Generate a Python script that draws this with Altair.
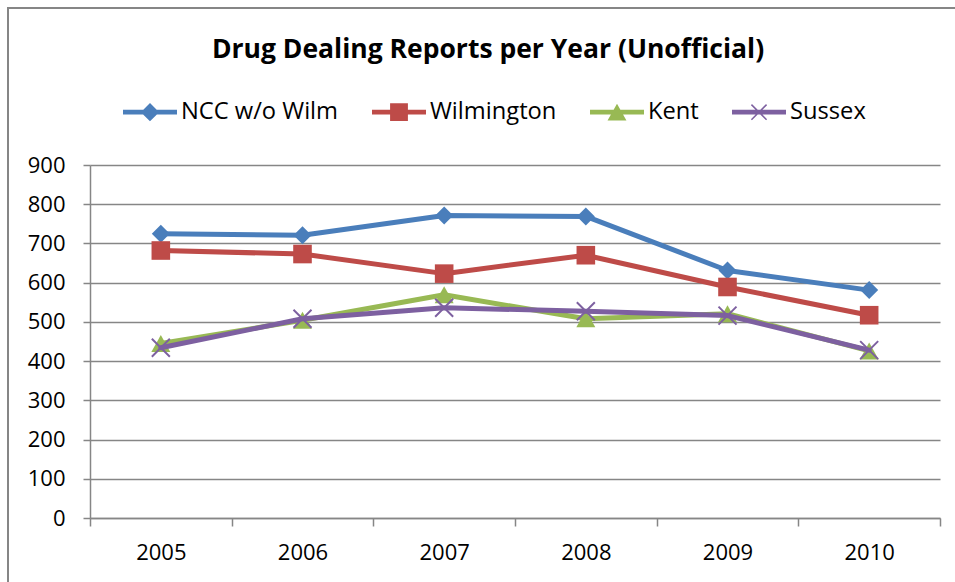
import altair as alt
import pandas as pd

# ---- data -------------------------------------------------------------
years = [2005, 2006, 2007, 2008, 2009, 2010]
series_names = ["NCC w/o Wilm", "Wilmington", "Kent", "Sussex"]
ncc_wo_wilm = [725, 721, 771, 769, 631, 581]
wilmington = [682, 673, 623, 670, 589, 517]
kent = [445, 504, 569, 508, 521, 426]
sussex = [434, 508, 536, 527, 516, 428]
y_ticks = list(range(0, 901, 100))
title_text = "Drug Dealing Reports per Year (Unofficial)"

# ---- styling ----------------------------------------------------------
line_colors = ["#4A7EBB", "#BE4B48", "#98B954", "#7D60A0"]
grey = "#868686"
font = "Open Sans"

# marker outlines in the unit square (filled paths)
marker_paths = [
    "M0,-0.9L0.9,0L0,0.9L-0.9,0Z",                      # diamond
    "M-0.93,-0.93L0.93,-0.93L0.93,0.93L-0.93,0.93Z",    # square
    "M0,-0.85L0.95,0.85L-0.95,0.85Z",                   # triangle
    "M-0.83,-0.97L0.97,0.83L0.83,0.97L-0.97,-0.83Z"
    "M0.97,-0.83L-0.83,0.97L-0.97,0.83L0.83,-0.97Z",    # x
]

# legend keys: a short line segment with the marker on it
seg = "M-1,-0.085L1,-0.085L1,0.085L-1,0.085Z"
legend_paths = [
    seg + "M0,-0.34L0.34,0L0,0.34L-0.34,0Z",
    seg + "M-0.33,-0.33L0.33,-0.33L0.33,0.33L-0.33,0.33Z",
    seg + "M0,-0.31L0.35,0.31L-0.35,0.31Z",
    seg + "M-0.26,-0.3L0.3,0.26L0.26,0.3L-0.3,-0.26Z"
          "M0.3,-0.26L-0.26,0.3L-0.3,0.26L0.26,-0.3Z",
]

values = dict(zip(series_names, [ncc_wo_wilm, wilmington, kent, sussex]))
df = pd.DataFrame(
    [{"year": y, "series": s, "reports": v}
     for s in series_names for y, v in zip(years, values[s])]
)

# category boundaries get ticks, category centres get labels
x_axis_values = sorted(years + [y - 0.5 for y in years] + [years[-1] + 0.5])

x_enc = alt.X(
    "year:Q",
    scale=alt.Scale(domain=[years[0] - 0.5, years[-1] + 0.5], nice=False, zero=False),
    axis=alt.Axis(
        values=x_axis_values,
        labelExpr="datum.value % 1 === 0 ? format(datum.value, 'd') : ''",
        tickOpacity={"condition": {"test": "datum.value % 1 === 0", "value": 0}, "value": 1},
        grid=False,
        domainColor=grey, domainWidth=1.5,
        tickColor=grey, tickWidth=1.5, tickSize=8,
        labelFont=font, labelFontSize=22, labelColor="black",
        labelPadding=16, labelFlush=False, labelOverlap=False,
        title=None,
    ),
)
y_enc = alt.Y(
    "reports:Q",
    scale=alt.Scale(domain=[0, 900], nice=False),
    axis=alt.Axis(
        values=y_ticks,
        grid=True, gridColor=grey, gridWidth=1.5,
        domainColor=grey, domainWidth=1.5,
        tickColor=grey, tickWidth=1.5, tickSize=7,
        labelFont=font, labelFontSize=22, labelColor="black",
        labelPadding=18, title=None,
    ),
)

# outer chart frame
frame = alt.Chart(pd.DataFrame({"f": [0]})).mark_rect(
    fill="white", fillOpacity=0, stroke=grey, strokeWidth=2
).encode(
    x=alt.value(-82), x2=alt.value(1000), y=alt.value(-157), y2=alt.value(1000)
)

layers = [frame]
for name, path, col in zip(series_names, marker_paths, line_colors):
    sub = df[df["series"] == name]
    base = alt.Chart(sub).encode(x=x_enc, y=y_enc)
    layers.append(base.mark_line(color=col, strokeWidth=5, strokeCap="round", strokeJoin="round"))
    layers.append(base.mark_point(shape=path, filled=True, size=400, opacity=1, color=col))

legend_props = dict(
    title=None, orient="none", direction="horizontal",
    legendX=33, legendY=-80,
    symbolSize=2916, symbolStrokeWidth=0, symbolOpacity=1,
    labelFont=font, labelFontSize=23.7, labelColor="black",
    labelOffset=4, columnPadding=33, padding=0,
)
legend_layer = alt.Chart(df).mark_point(filled=True, opacity=0).encode(
    x=x_enc, y=y_enc,
    color=alt.Color("series:N", scale=alt.Scale(domain=series_names, range=line_colors),
                    legend=alt.Legend(**legend_props)),
    shape=alt.Shape("series:N", scale=alt.Scale(domain=series_names, range=legend_paths),
                    legend=alt.Legend(**legend_props)),
)
layers.append(legend_layer)

title_layer = alt.Chart(pd.DataFrame({"label": [title_text]})).mark_text(
    font=font, fontWeight="bold", fontSize=26.5, align="center",
    baseline="alphabetic", color="black",
).encode(x=alt.value(398), y=alt.value(-107), text="label:N")
layers.append(title_layer)

chart = alt.layer(*layers).properties(
    width=850, height=353,
    autosize=alt.AutoSizeParams(type="none"),
    padding={"left": 90, "top": 165, "right": 15, "bottom": 64},
    background="white",
).configure_view(stroke=None)

chart.save("out.html", embed_options={"renderer": "svg", "actions": False})
